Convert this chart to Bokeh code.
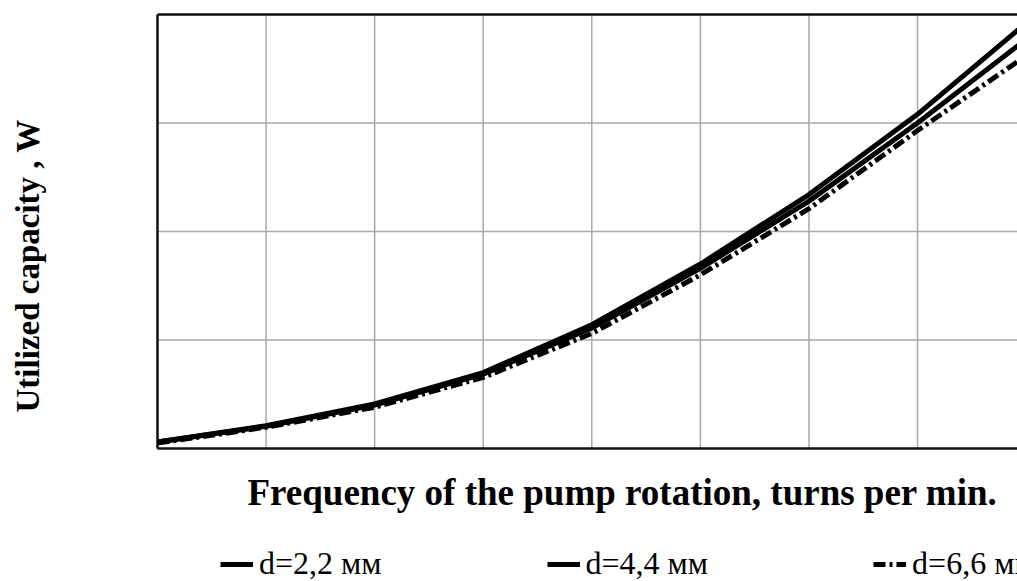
from bokeh.plotting import figure
from bokeh.models import Legend, LegendItem, Label, Range1d
from bokeh.embed import file_html
from bokeh.resources import INLINE
import math

# ---- data ----
freq = [0, 200, 400, 600, 800, 1000, 1200, 1400, 1600]
p_d22 = [6, 21, 41, 70, 114, 170, 234, 308, 392]
p_d44 = [6, 20.5, 40, 68.5, 111, 166, 228, 300, 377]
p_d66 = [5, 19.5, 38, 65.5, 106, 160, 221, 293, 362]
series_names = ["d=2,2 мм", "d=4,4 мм", "d=6,6 мм"]
x_title = "Frequency of the pump rotation, turns per min."
y_title = "Utilized capacity ,  W"
x_ticks = [0, 200, 400, 600, 800, 1000, 1200, 1400]
y_ticks = [0, 100, 200, 300, 400]

FONT = "Liberation Serif"

# the frame covers the whole canvas; the plot area is x in [0, X_END], y in [0, 400]
X_END = 1584.2
p = figure(width=1017, height=581, output_backend="svg", toolbar_location=None,
           x_range=Range1d(-289.2, X_END), y_range=Range1d(-122.6, 412.9),
           x_axis_type=None, y_axis_type=None, title=None,
           min_border=0, min_border_left=0, min_border_right=0,
           min_border_top=0, min_border_bottom=0)
p.outline_line_color = None
p.background_fill_color = "white"
p.border_fill_color = "white"

y_lo, y_hi = y_ticks[0], y_ticks[-1]
GRID = "#a9a9a9"
# grid lines
p.segment(x0=x_ticks[1:], x1=x_ticks[1:], y0=[y_lo] * (len(x_ticks) - 1),
          y1=[y_hi] * (len(x_ticks) - 1), line_color=GRID, line_width=1.5)
p.segment(x0=[0] * (len(y_ticks) - 2), x1=[X_END] * (len(y_ticks) - 2),
          y0=y_ticks[1:-1], y1=y_ticks[1:-1], line_color=GRID, line_width=1.5)
# plot-area border (left, top, bottom; right edge is outside the picture)
p.segment(x0=[0, 0, 0], x1=[0, X_END, X_END], y0=[y_lo, y_hi, y_lo],
          y1=[y_hi, y_hi, y_lo], line_color="#111111", line_width=2.5)

r1 = p.line(freq, p_d22, line_color="black", line_width=5, line_join="round")
r2 = p.line(freq, p_d44, line_color="black", line_width=5, line_join="round")
r3 = p.line(freq, p_d66, line_color="black", line_width=5, line_join="round",
            line_dash="12 4 3 4")

legend = Legend(items=[LegendItem(label=series_names[0], renderers=[r1]),
                       LegendItem(label=series_names[1], renderers=[r2]),
                       LegendItem(label=series_names[2], renderers=[r3])],
                orientation="horizontal", location=(220, -1),
                label_text_font=FONT, label_text_font_size="32px",
                label_text_color="black", glyph_width=33, glyph_height=34,
                label_height=34, label_standoff=6, spacing=165, padding=0, margin=0,
                border_line_color=None, background_fill_alpha=0)
p.add_layout(legend, "center")

xl = Label(x=165.8, y=-40.6, text=x_title, text_align="left", text_baseline="middle",
           text_font=FONT, text_font_size="37px", text_font_style="bold",
           text_color="black")
yl = Label(x=-238, y=33.2, text=y_title, angle=math.pi / 2, text_align="left",
           text_baseline="middle", text_font=FONT, text_font_size="33px",
           text_font_style="bold", text_color="black")
p.add_layout(xl)
p.add_layout(yl)

open("out.html", "w").write(file_html(p, INLINE))
